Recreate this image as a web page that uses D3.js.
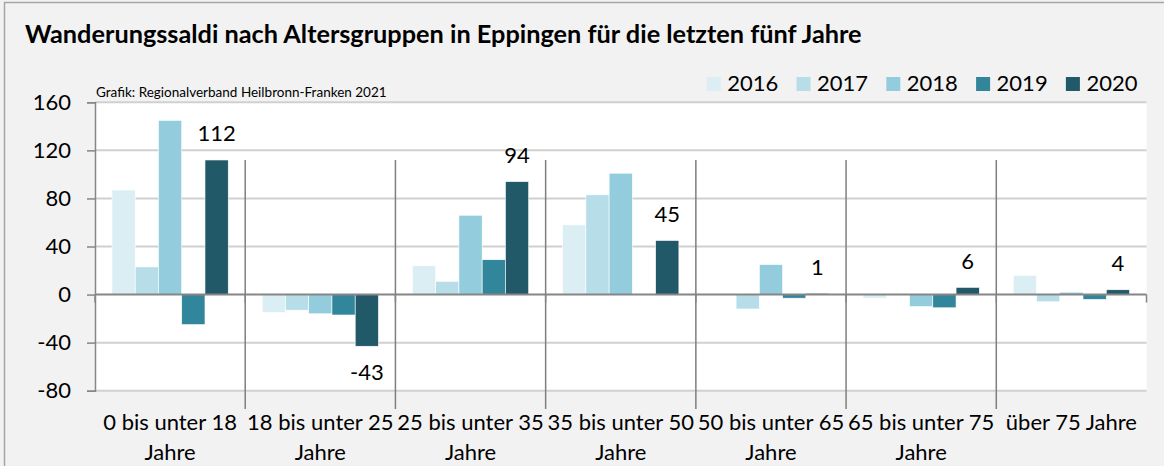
<!DOCTYPE html>
<html>
<head>
<meta charset="utf-8">
<script src="https://cdn.jsdelivr.net/npm/d3@7"></script>
<style>
    body { margin: 0; background: #f2f2f2; }
    svg { display: block; font-family: Lato, 'Open Sans', sans-serif; }
</style>
</head>
<body>
<svg width="1164" height="466"></svg>
<script>
// data
let categories = ['0 bis unter 18 Jahre', '18 bis unter 25 Jahre', '25 bis unter 35 Jahre',
    '35 bis unter 50 Jahre', '50 bis unter 65 Jahre', '65 bis unter 75 Jahre', 'über 75 Jahre'];
let years = ['2016', '2017', '2018', '2019', '2020'];
let values2016 = [87, -15, 24, 58, 0, -3, 16];
let values2017 = [23, -13, 11, 83, -12, 0, -6];
let values2018 = [145, -16, 66, 101, 25, -10, 2];
let values2019 = [-25, -17, 29, 0, -3, -11, -4];
let values2020 = [112, -43, 94, 45, 1, 6, 4];
let yTicks = [-80, -40, 0, 40, 80, 120, 160];
let colors = ['#dbeef4', '#b7dee8', '#93cddd', '#31869b', '#215968'];

let series = [values2016, values2017, values2018, values2019, values2020];

document.addEventListener('DOMContentLoaded', function() {
    let svg = d3.select('svg');

    let plot = {left: 95, right: 1146.5, top: 102.3, bottom: 390.7};

    // outer frame
    svg.append('rect')
        .attr('x', 4.5).attr('y', 2.5)
        .attr('width', 1200).attr('height', 500)
        .attr('fill', '#f2f2f2')
        .attr('stroke', '#a6a6a6')
        .attr('stroke-width', 1.5);

    let x0 = d3.scaleBand()
        .domain(categories)
        .range([plot.left, plot.right]);

    let x1 = d3.scaleBand()
        .domain(years)
        .range([0, x0.bandwidth()])
        .paddingOuter(0.73);

    let y = d3.scaleLinear()
        .domain([-80, 160])
        .range([plot.bottom, plot.top]);

    // title
    fitText(svg.append('text')
        .attr('x', 25).attr('y', 43)
        .attr('font-weight', 'bold')
        .attr('fill', '#000')
        .text('Wanderungssaldi nach Altersgruppen in Eppingen für die letzten fünf Jahre'), 22, 837);

    // plot background
    svg.append('rect')
        .attr('x', plot.left).attr('y', plot.top)
        .attr('width', plot.right - plot.left)
        .attr('height', plot.bottom - plot.top)
        .attr('fill', '#fff');

    // grid lines
    svg.append('g').attr('class', 'grid')
        .selectAll('line')
        .data(yTicks.filter(d => d !== 0))
        .join('line')
        .attr('x1', plot.left).attr('x2', plot.right)
        .attr('y1', d => y(d)).attr('y2', d => y(d))
        .attr('stroke', '#d0d0d0')
        .attr('stroke-width', 2);

    // y axis
    let yAxis = svg.append('g')
        .attr('transform', `translate(${plot.left},0)`)
        .call(d3.axisLeft(y).tickValues(yTicks).tickSize(8).tickPadding(16).tickFormat(d => String(d)));
    yAxis.select('.domain').attr('stroke', '#868686').attr('stroke-width', 1.5);
    yAxis.selectAll('.tick line').attr('stroke', '#868686').attr('stroke-width', 1.5);
    yAxis.selectAll('.tick text')
        .attr('font-size', 22)
        .attr('fill', '#000')
        .attr('font-family', 'Lato, sans-serif');

    // source note
    fitText(svg.append('text')
        .attr('x', 96).attr('y', 97)
        .attr('fill', '#000')
        .text('Grafik: Regionalverband Heilbronn-Franken 2021'), 13, 291);

    // bars
    let barData = [];
    categories.forEach(function(c, i) {
        years.forEach(function(yr, j) {
            barData.push({cat: c, year: yr, value: series[j][i], color: colors[j]});
        });
    });

    svg.append('g').attr('class', 'bars')
        .selectAll('rect')
        .data(barData)
        .join('rect')
        .attr('x', d => x0(d.cat) + x1(d.year))
        .attr('width', x1.bandwidth())
        .attr('y', d => y(Math.max(0, d.value)))
        .attr('height', d => Math.abs(y(d.value) - y(0)))
        .attr('fill', d => d.color)
        .attr('stroke', '#fff')
        .attr('stroke-width', 0.6);

    // zero line
    svg.append('line')
        .attr('x1', plot.left).attr('x2', plot.right)
        .attr('y1', y(0)).attr('y2', y(0))
        .attr('stroke', '#868686')
        .attr('stroke-width', 2);

    // category separators
    let bounds = categories.map(c => x0(c)).concat([plot.right]);
    svg.append('g').attr('class', 'seps')
        .selectAll('line')
        .data(bounds.slice(1, -1))
        .join('line')
        .attr('x1', d => d).attr('x2', d => d)
        .attr('y1', 160).attr('y2', 409)
        .attr('stroke', '#7f7f7f')
        .attr('stroke-width', 1.5);

    // small ticks on the zero line
    svg.append('g').attr('class', 'xticks')
        .selectAll('line')
        .data(bounds)
        .join('line')
        .attr('x1', d => d).attr('x2', d => d)
        .attr('y1', y(0)).attr('y2', y(0) + 8)
        .attr('stroke', '#868686')
        .attr('stroke-width', 1.5);

    // value labels for 2020
    let last = years.length - 1;
    svg.append('g').attr('class', 'labels')
        .selectAll('text')
        .data(categories)
        .join('text')
        .attr('x', c => x0(c) + x1(years[last]) + x1.bandwidth() / 2)
        .attr('y', function(c, i) {
            let v = series[last][i];
            return v >= 0 ? y(v) - 18.5 : y(v) + 34;
        })
        .attr('text-anchor', 'middle')
        .attr('font-size', 22)
        .attr('fill', '#000')
        .text((c, i) => series[last][i]);

    // category labels
    svg.append('g').attr('class', 'catlabels')
        .selectAll('text')
        .data(categories)
        .join('text')
        .attr('x', c => x0(c) + x0.bandwidth() / 2)
        .attr('y', 430)
        .attr('text-anchor', 'middle')
        .attr('font-size', 22)
        .attr('fill', '#000')
        .each(function(c) { wrap(d3.select(this), c, x0.bandwidth()); });

    // legend
    let legend = svg.append('g').attr('class', 'legend')
        .selectAll('g')
        .data(years)
        .join('g')
        .attr('transform', (d, i) => `translate(${706.7 + i * 89.8},0)`);
    legend.append('rect')
        .attr('x', 0).attr('y', 77)
        .attr('width', 14).attr('height', 14)
        .attr('fill', (d, i) => colors[i]);
    legend.append('text')
        .attr('x', 20.5).attr('y', 91)
        .attr('font-size', 22)
        .attr('fill', '#000')
        .text(d => d);
});

function fitText(sel, size, width) {
    sel.attr('font-size', size);
    let w = sel.node().getComputedTextLength();
    sel.attr('font-size', size * width / w);
}

function wrap(sel, label, width) {
    let words = label.split(' ');
    let line = [];
    let tspan = sel.append('tspan').attr('x', sel.attr('x')).attr('dy', 0);
    words.forEach(function(w) {
        line.push(w);
        tspan.text(line.join(' '));
        if (tspan.node().getComputedTextLength() > width && line.length > 1) {
            line.pop();
            tspan.text(line.join(' '));
            line = [w];
            tspan = sel.append('tspan').attr('x', sel.attr('x')).attr('dy', 30).text(w);
        }
    });
}
</script>
</body>
</html>
